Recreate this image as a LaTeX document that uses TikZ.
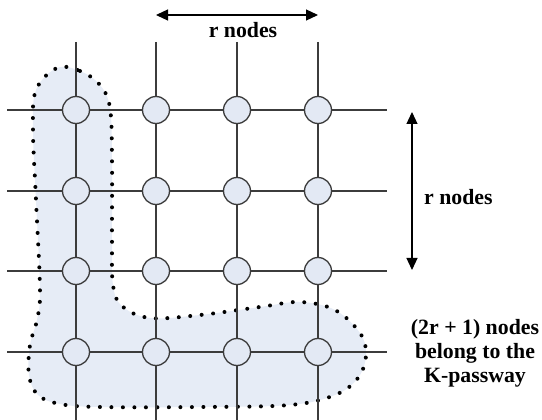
\documentclass[tikz,border=0pt]{standalone}
\usepackage{fontspec}
\setmainfont{Liberation Serif}
\usetikzlibrary{arrows.meta}
\definecolor{nodefill}{HTML}{E3E9F4}
\definecolor{blobfill}{HTML}{E6ECF6}
\definecolor{linegray}{HTML}{3C3C3C}
\begin{document}
\begin{tikzpicture}[x=1pt,y=-1pt,
  gridline/.style={linegray, line width=1.4pt},
  vnode/.style={circle, draw=linegray, fill=nodefill, line width=1.3pt, minimum size=27pt, inner sep=0pt},
  dimarrow/.style={black, line width=1.2pt, {Triangle[length=12pt,width=11pt]}-{Triangle[length=12pt,width=11pt]}},
  lbl/.style={font=\fontsize{21.8}{24}\selectfont\bfseries, inner sep=0pt, align=center},
  blob/.style={fill=blobfill, draw=black, line width=4pt, line cap=round, dash pattern=on 0pt off 11.5pt}]
\useasboundingbox (0,0) rectangle (542,420);

% K-passway region
\draw[blob] plot[smooth cycle, tension=0.6] coordinates {
  (57,68) (80,71) (100,85) (110,108) (112,160) (112,240) (113,285) (122,306)
  (150,318) (200,315) (260,307) (300,302) (335,310) (360,333) (366,355)
  (358,378) (335,395) (290,405) (200,407) (100,407) (60,404) (38,395)
  (29,375) (30,345) (37,320) (40,290) (36,200) (33,130) (36,90)};

% nodes
\foreach \i/\y in {1/110,2/191,3/271,4/352}{
  \foreach \j/\x in {1/76,2/156,3/237,4/318}{
    \node[vnode] (n\i\j) at (\x,\y) {};
  }
}
% free ends
\foreach \i/\y in {1/110,2/191,3/271,4/352}{
  \coordinate (l\i) at (7,\y);
  \coordinate (r\i) at (387,\y);
}
\foreach \j/\x in {1/76,2/156,3/237,4/318}{
  \coordinate (t\j) at (\x,42);
  \coordinate (b\j) at (\x,420);
}
% grid connectors
\foreach \i in {1,2,3,4}{
  \draw[gridline] (l\i) -- (n\i1);
  \draw[gridline] (n\i1) -- (n\i2);
  \draw[gridline] (n\i2) -- (n\i3);
  \draw[gridline] (n\i3) -- (n\i4);
  \draw[gridline] (n\i4) -- (r\i);
}
\foreach \j in {1,2,3,4}{
  \draw[gridline] (t\j) -- (n1\j);
  \draw[gridline] (n1\j) -- (n2\j);
  \draw[gridline] (n2\j) -- (n3\j);
  \draw[gridline] (n3\j) -- (n4\j);
  \draw[gridline] (n4\j) -- (b\j);
}

% dimension arrows
\coordinate (ha) at (156,15);
\coordinate (hb) at (318,15);
\draw[dimarrow] (ha) -- (hb);
\coordinate (va) at (412,112);
\coordinate (vb) at (412,270);
\draw[dimarrow] (va) -- (vb);

% labels
\node[lbl] (toplbl) at (243,30) {r nodes};
\node[lbl, anchor=west] (rightlbl) at (424,197) {r nodes};
\node[lbl] (kpass) at (475,353) {(2r + 1) nodes\\belong to the\\K-passway};
\end{tikzpicture}
\end{document}
